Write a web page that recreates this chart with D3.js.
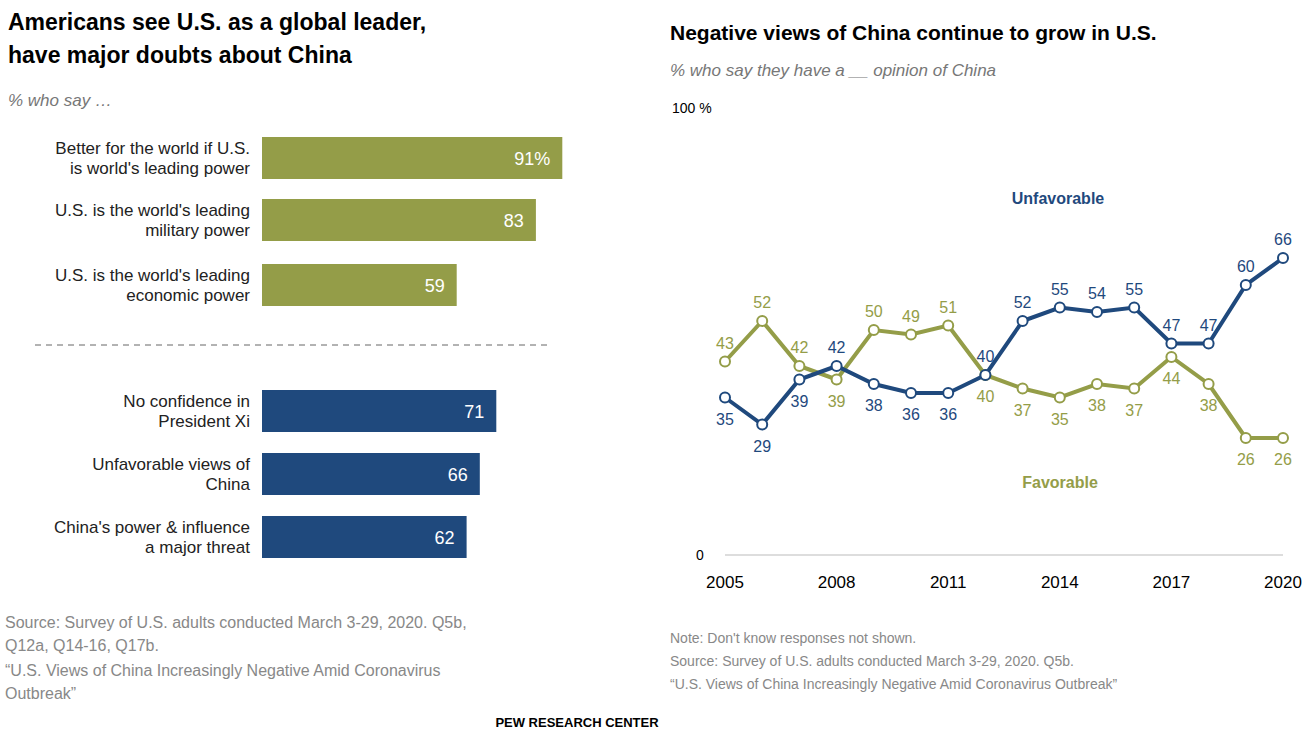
<!DOCTYPE html><html><head><meta charset="utf-8"><script src="https://cdn.jsdelivr.net/npm/d3@7"></script>
<style>body{margin:0;background:#fff}text{font-family:"Franklin Gothic","Liberation Sans",Arial,sans-serif}</style></head><body><svg width="1314" height="746"></svg>
<script>
const barLabels=[["Better for the world if U.S.","is world's leading power"],["U.S. is the world's leading","military power"],["U.S. is the world's leading","economic power"],["No confidence in","President Xi"],["Unfavorable views of","China"],["China's power & influence","a major threat"]];
const barValues=[91,83,59,71,66,62];
const barGroups=["us","us","us","china","china","china"];
const years=d3.range(2005,2021);
const unfav=[35,29,39,42,38,36,36,40,52,55,54,55,47,47,60,66];
const fav=[43,52,42,39,50,49,51,40,37,35,38,37,44,38,26,26];
const unfavPos=["b","b","b","a","b","b","b","a","a","a","a","a","a","a","a","a"];
const favPos=["a","a","a","b","a","a","a","b","b","b","b","b","b","b","b","b"];
const xTicks=[2005,2008,2011,2014,2017,2020];
const G="#949d48",B="#1f497d";
const svg=d3.select("svg");
// left
svg.append("text").attr("x",8).attr("y",30).attr("font-size",23).attr("font-weight","bold").text("Americans see U.S. as a global leader,");
svg.append("text").attr("x",8).attr("y",63).attr("font-size",23).attr("font-weight","bold").text("have major doubts about China");
svg.append("text").attr("x",8).attr("y",106).attr("font-size",17).attr("font-style","italic").attr("fill","#777").attr("font-family","Georgia,serif").text("% who say …");
const xb=d3.scaleLinear().domain([0,100]).range([262,592]);
const barY=[137,199,264,390,453,516];
barValues.forEach((v,i)=>{
 const y=barY[i];
 svg.append("rect").attr("x",xb(0)).attr("y",y).attr("width",xb(v)-xb(0)).attr("height",42).attr("fill",barGroups[i]=="us"?G:B);
 svg.append("text").attr("x",xb(v)-12).attr("y",y+28).attr("text-anchor","end").attr("fill","#fff").attr("font-size",18).text(i==0?v+"%":v);
 barLabels[i].forEach((l,j)=>svg.append("text").attr("x",250).attr("y",y+17+j*20).attr("text-anchor","end").attr("font-size",17).attr("fill","#222").text(l));
});
svg.append("line").attr("x1",35).attr("x2",548).attr("y1",345).attr("y2",345).attr("stroke","#666").attr("stroke-dasharray","6,5");
[["Source: Survey of U.S. adults conducted March 3-29, 2020. Q5b,",628],["Q12a, Q14-16, Q17b.",651],["“U.S. Views of China Increasingly Negative Amid Coronavirus",676],["Outbreak”",699]].forEach(d=>svg.append("text").attr("x",5).attr("y",d[1]).attr("font-size",16).attr("fill","#888").text(d[0]));
svg.append("text").attr("x",577).attr("y",727).attr("text-anchor","middle").attr("font-size",13).attr("font-weight","bold").text("PEW RESEARCH CENTER");
// right
svg.append("text").attr("x",670).attr("y",40).attr("font-size",21).attr("font-weight","bold").text("Negative views of China continue to grow in U.S.");
svg.append("text").attr("x",670).attr("y",76).attr("font-size",17).attr("font-style","italic").attr("fill","#777").attr("font-family","Georgia,serif").text("% who say they have a __ opinion of China");
const x=d3.scaleLinear().domain([2005,2020]).range([725,1283]);
const y=d3.scaleLinear().domain([0,100]).range([555,105]);
svg.append("line").attr("x1",725).attr("x2",1283).attr("y1",y(0)).attr("y2",y(0)).attr("stroke","#bbb");
svg.append("text").attr("x",672).attr("y",113).attr("font-size",14).text("100 %");
svg.append("text").attr("x",696).attr("y",560).attr("font-size",14).text("0");
xTicks.forEach(t=>svg.append("text").attr("x",x(t)).attr("y",588).attr("text-anchor","middle").attr("font-size",17).text(t));
const line=d3.line().x((d,i)=>x(years[i])).y(d=>y(d));
[[fav,G,favPos],[unfav,B,unfavPos]].forEach(([s,c,p])=>{
 svg.append("path").attr("d",line(s)).attr("fill","none").attr("stroke",c).attr("stroke-width",4);
 s.forEach((v,i)=>{
  svg.append("circle").attr("cx",x(years[i])).attr("cy",y(v)).attr("r",5).attr("fill","#fff").attr("stroke",c).attr("stroke-width",2);
  svg.append("text").attr("x",x(years[i])).attr("y",y(v)+(p[i]=="a"?-13:27)).attr("text-anchor","middle").attr("font-size",16).attr("fill",c).text(v);
 });
});
svg.append("text").attr("x",1058).attr("y",204).attr("text-anchor","middle").attr("font-size",16).attr("font-weight","bold").attr("fill",B).text("Unfavorable");
svg.append("text").attr("x",1060).attr("y",488).attr("text-anchor","middle").attr("font-size",16).attr("font-weight","bold").attr("fill",G).text("Favorable");
[["Note: Don't know responses not shown.",643],["Source: Survey of U.S. adults conducted March 3-29, 2020. Q5b.",666],["“U.S. Views of China Increasingly Negative Amid Coronavirus Outbreak”",689]].forEach(d=>svg.append("text").attr("x",670).attr("y",d[1]).attr("font-size",14).attr("fill","#888").text(d[0]));
</script></body></html>
